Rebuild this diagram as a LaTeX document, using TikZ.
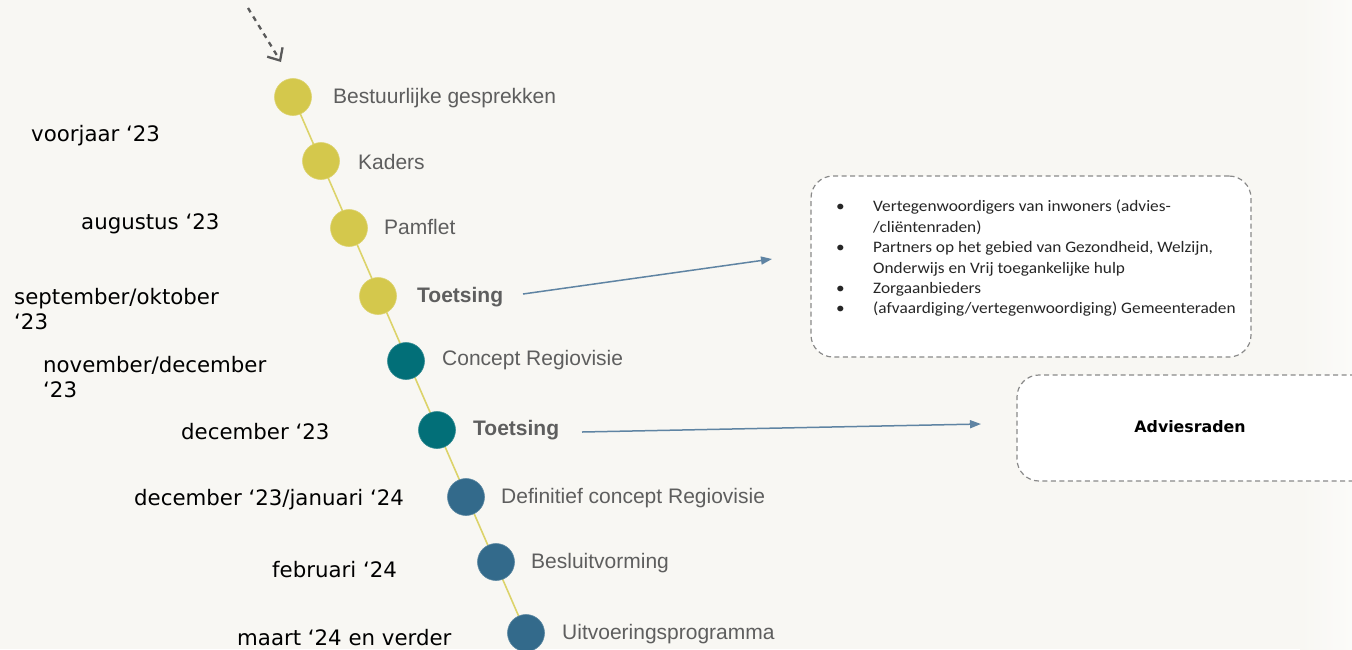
\documentclass[tikz,border=0pt]{standalone}
\usepackage{fontspec}
\setmainfont{Liberation Sans}
\newfontfamily\dejavu{DejaVu Sans}
\newfontfamily\carl[FakeStretch=1.08]{Carlito}
\usetikzlibrary{arrows.meta}
\definecolor{bg}{HTML}{F8F7F3}
\definecolor{bgr}{HTML}{FBFBF9}
\definecolor{ylw}{HTML}{D4C84C}
\definecolor{ylwline}{HTML}{DCD36A}
\definecolor{teal}{HTML}{026F78}
\definecolor{blu}{HTML}{336A8B}
\definecolor{lbl}{HTML}{5E5E5E}
\definecolor{arr}{HTML}{5F84A3}
\definecolor{dash}{HTML}{8A8A8A}
\tikzset{
  dot/.style={circle, minimum size=37pt, inner sep=0pt, fill=#1, draw=#1!80!white, line width=0.6pt},
  stage/.style={anchor=west, inner sep=0pt, text=lbl, font=\fontsize{21}{24}\selectfont},
  stagebold/.style={stage, font=\fontsize{21}{24}\selectfont\bfseries},
  when/.style={anchor=west, inner sep=0pt, align=left, text=black, font=\dejavu\fontsize{21.3}{24.5}\selectfont},
  dbox/.style={draw=dash, dashed, dash pattern=on 5pt off 3.5pt, line width=1.2pt, rounded corners=22pt, fill=white},
  linkarrow/.style={draw=arr, line width=1.5pt, -{Triangle[length=11pt,width=8pt]}},
}
\begin{document}
\begin{tikzpicture}[x=1pt,y=-1pt]
\useasboundingbox (0,0) rectangle (1352,649);
\clip (0,0) rectangle (1352,649);
\fill[bg] (0,0) rectangle (1352,649);
\shade[left color=bg, right color=bgr] (1300,0) rectangle (1352,649);

% timeline circles
\coordinate (p1) at (293,97);
\coordinate (p9) at (526,633);
\draw[ylwline, line width=1.6pt] (p1) -- (p9);
\node[dot=ylw]  (c1) at (293,97)  {};
\node[dot=ylw]  (c2) at (321,161) {};
\node[dot=ylw]  (c3) at (349,228) {};
\node[dot=ylw]  (c4) at (378,296) {};
\node[dot=teal] (c5) at (406,361) {};
\node[dot=teal] (c6) at (437,430) {};
\node[dot=blu]  (c7) at (466,497) {};
\node[dot=blu]  (c8) at (496,562) {};
\node[dot=blu]  (c9) at (526,633) {};

% stage labels
\node[stage]     (l1) at (333,98.5)  {Bestuurlijke gesprekken};
\node[stage]     (l2) at (358,161.5) {Kaders};
\node[stage]     (l3) at (384,226.5) {Pamflet};
\node[stagebold] (l4) at (417,297.5) {Toetsing};
\node[stage]     (l5) at (442,360.5) {Concept Regiovisie};
\node[stagebold] (l6) at (473,430.5) {Toetsing};
\node[stage]     (l7) at (501,498.5) {Definitief concept Regiovisie};
\node[stage]     (l8) at (531,563.5) {Besluitvorming};
\node[stage]     (l9) at (562,634.5) {Uitvoeringsprogramma};

% dates
\node[when] (d1) at (31,136)  {voorjaar ‘23};
\node[when] (d2) at (81,224)  {augustus ‘23};
\node[when] (d3) at (14,309)  {september/oktober\\‘23};
\node[when] (d4) at (43,377)  {november/december\\‘23};
\node[when] (d5) at (181,432) {december ‘23};
\node[when] (d6) at (134,500) {december ‘23/januari ‘24};
\node[when] (d7) at (272,570) {februari ‘24};
\node[when] (d8) at (237,638) {maart ‘24 en verder};

% top dashed arrow
\coordinate (s0) at (248,8);
\coordinate (s1) at (281,62);
\draw[dash!65!black, line width=2.3pt, dash pattern=on 5pt off 5pt,
  -{Straight Barb[length=10pt,width=18pt,line width=2.3pt]}] (s0) -- (s1);

% boxes
\node[dbox, minimum width=440pt, minimum height=181pt] (b1) at (1031,266.5) {};
\node[anchor=north west, inner sep=0pt, align=left, text=black!85] (t1) at (836,197.5)
{\carl\fontsize{16}{20.4}\selectfont
\begin{tabular}{@{}p{37pt}@{}l@{}}
\textbullet & Vertegenwoordigers van inwoners (advies-\\
 & /cliëntenraden)\\
\textbullet & Partners op het gebied van Gezondheid, Welzijn,\\
 & Onderwijs en Vrij toegankelijke hulp\\
\textbullet & Zorgaanbieders\\
\textbullet & (afvaardiging/vertegenwoordiging) Gemeenteraden
\end{tabular}};
\node[dbox, minimum width=360pt, minimum height=106pt] (b2) at (1197,428) {};
\node[inner sep=0pt, font=\dejavu\bfseries\fontsize{15.8}{18}\selectfont] (t2) at (1190,426.5) {Adviesraden};

% connectors
\coordinate (a1s) at (523,294);
\coordinate (a1e) at (772,259);
\coordinate (a2s) at (582,432);
\coordinate (a2e) at (981,424);
\draw[linkarrow] (a1s) -- (a1e);
\draw[linkarrow] (a2s) -- (a2e);
\end{tikzpicture}
\end{document}
